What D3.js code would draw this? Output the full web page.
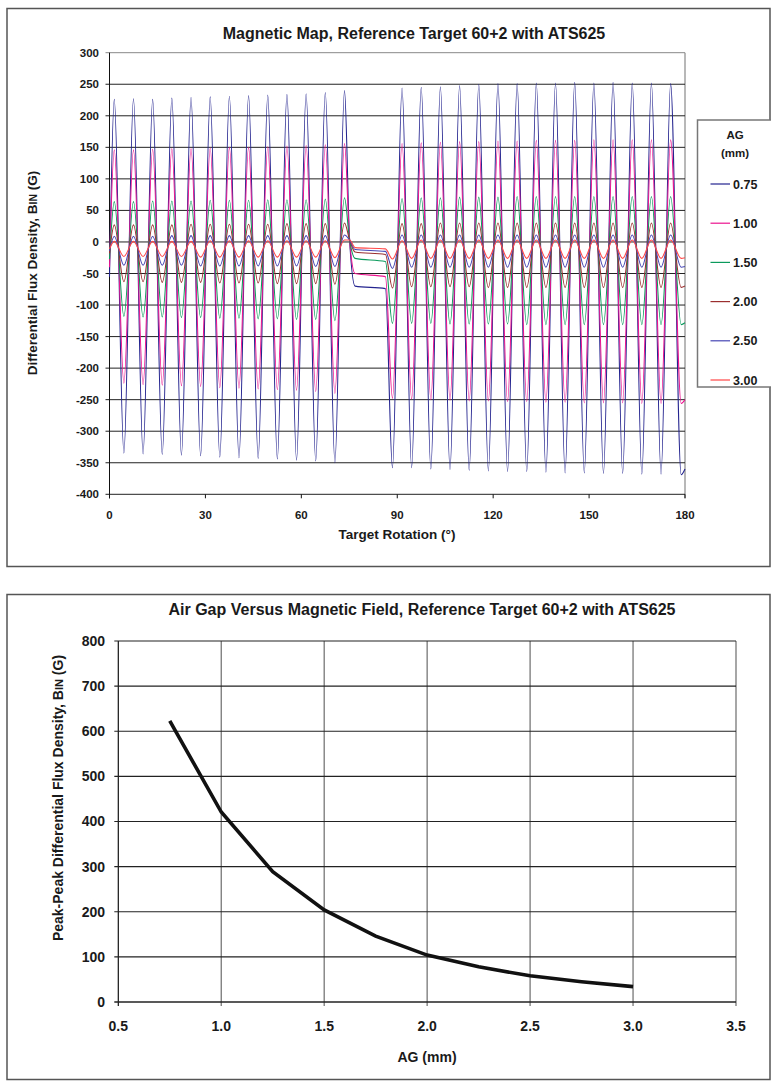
<!DOCTYPE html>
<html>
<head>
<meta charset="utf-8">
<script src="https://cdn.jsdelivr.net/npm/d3@7"></script>
<style>
  body { margin: 0; background: #fff; }
  text { font-family: "Liberation Sans", Arial, sans-serif; font-weight: bold; fill: #1a1a1a; }
</style>
</head>
<body>
<div id="chart"></div>
<script>
// ---- data: magnetic map (tooth peaks / valleys) ----
var seriesNames = ["0.75", "1.00", "1.50", "2.00", "2.50", "3.00"];
var seriesColors = ["#24248f", "#ec138f", "#0b9a5c", "#9b2f2f", "#4646b4", "#ff4646"];

var peakAngles = [1.5, 7.5, 13.5, 19.5, 25.5, 31.5, 37.5, 43.5, 49.5, 55.5, 61.5, 67.5, 73.5,
  91.5, 97.5, 103.5, 109.5, 115.5, 121.5, 127.5, 133.5, 139.5, 145.5, 151.5, 157.5, 163.5, 169.5, 175.5];
var valleyAngles = [4.5, 10.5, 16.5, 22.5, 28.5, 34.5, 40.5, 46.5, 52.5, 58.5, 64.5, 70.5, 88.5,
  94.5, 100.5, 106.5, 112.5, 118.5, 124.5, 130.5, 136.5, 142.5, 148.5, 154.5, 160.5, 166.5, 172.5, 178.8];
// missing-tooth gap: crossing point, start of flat part, end of flat part
var gapAngles = [75.1, 76.8, 86.3];

var peaks075 = [226, 227, 226, 228, 229, 230, 231, 232, 233, 234, 235, 237, 240,
  244, 245, 246, 248, 250, 251, 251, 252, 252, 253, 252, 253, 252, 252, 251];
var valleys075 = [-335, -336, -337, -338, -339, -341, -342, -343, -344, -346, -347, -350, -358,
  -358, -360, -361, -362, -363, -364, -364, -365, -366, -366, -367, -367, -368, -368, -369];
var peaks100 = [146, 146, 147, 148, 148, 149, 150, 150, 151, 152, 153, 154, 156,
  156, 157, 158, 159, 159, 160, 160, 161, 161, 161, 162, 162, 162, 162, 162];
var valleys100 = [-224, -226, -227, -228, -229, -231, -232, -233, -234, -235, -237, -240, -248,
  -249, -250, -251, -252, -252, -253, -253, -254, -254, -255, -255, -255, -256, -256, -256];
var peaks150 = [64, 64, 65, 65, 65, 66, 66, 66, 67, 67, 67, 68, 70,
  69, 70, 70, 71, 71, 71, 72, 72, 72, 72, 72, 72, 72, 72, 72];
var valleys150 = [-118, -119, -119, -120, -120, -121, -121, -122, -122, -123, -123, -125, -129,
  -129, -129, -130, -130, -130, -130, -131, -131, -131, -131, -131, -131, -131, -131, -131];
var peaks200 = [27, 27, 27, 27, 28, 28, 28, 28, 28, 29, 29, 29, 30,
  29, 29, 30, 30, 30, 30, 30, 30, 30, 30, 30, 30, 30, 30, 30];
var valleys200 = [-63, -63, -64, -64, -64, -65, -65, -65, -66, -66, -66, -67, -73,
  -71, -71, -71, -71, -72, -72, -72, -72, -72, -72, -72, -72, -72, -72, -72];
var peaks250 = [9, 9, 9, 10, 10, 10, 10, 10, 10, 10, 10, 10, 11,
  11, 11, 11, 11, 11, 11, 11, 11, 11, 11, 11, 11, 11, 11, 11];
var valleys250 = [-37, -37, -37, -37, -38, -38, -38, -38, -38, -38, -39, -39, -42,
  -40, -40, -40, -40, -40, -40, -40, -40, -40, -40, -40, -40, -40, -40, -40];
var peaks300 = [1, 1, 1, 1, 1, 2, 2, 2, 2, 2, 2, 2, 3,
  2, 3, 3, 3, 3, 3, 3, 3, 3, 3, 3, 3, 3, 3, 3];
var valleys300 = [-23, -23, -23, -23, -24, -24, -24, -24, -24, -24, -24, -25, -27,
  -26, -26, -26, -26, -26, -26, -26, -26, -26, -26, -26, -26, -26, -26, -26];

var startValues = [-55, -40, -27, -18, -14, -11];   // value at 0 deg
var endValues = [-360, -250, -128, -70, -39, -25];  // value at 180 deg
var gapValues = [[3, -70, -74], [3, -50, -55], [3, -26, -31], [3, -16, -20], [3, -12, -15], [3, -9, -11]];

var allPeaks = [peaks075, peaks100, peaks150, peaks200, peaks250, peaks300];
var allValleys = [valleys075, valleys100, valleys150, valleys200, valleys250, valleys300];

var topYTicks = [300, 250, 200, 150, 100, 50, 0, -50, -100, -150, -200, -250, -300, -350, -400];
var topXTicks = [0, 30, 60, 90, 120, 150, 180];

// ---- data: air gap vs peak-peak field ----
var airGap = [0.75, 1.00, 1.25, 1.50, 1.75, 2.00, 2.25, 2.50, 2.75, 3.00];
var peakPeak = [623, 421, 289, 204, 146, 104, 78, 58, 45, 34];
var botYTicks = [0, 100, 200, 300, 400, 500, 600, 700, 800];
var botXTicks = [0.5, 1.0, 1.5, 2.0, 2.5, 3.0, 3.5];

var svg = d3.select("#chart").append("svg")
    .attr("width", 771)
    .attr("height", 1083);

// panels
svg.append("rect").attr("x", 7).attr("y", 8.5).attr("width", 763).attr("height", 558)
    .attr("fill", "none").attr("stroke", "#555").attr("stroke-width", 1.5);
svg.append("rect").attr("x", 7).attr("y", 594.5).attr("width", 763).attr("height", 485)
    .attr("fill", "none").attr("stroke", "#555").attr("stroke-width", 1.5);

// ================= top chart =================
var x0 = d3.scaleLinear().domain([0, 180]).range([109.5, 685]);
var y0 = d3.scaleLinear().domain([-400, 300]).range([494.3, 52.7]);

svg.append("text").attr("x", 414).attr("y", 39).attr("text-anchor", "middle")
    .attr("font-size", 16).text("Magnetic Map, Reference Target 60+2 with ATS625");

var gTop = svg.append("g");

// plot area border (right, grey)
gTop.append("line").attr("x1", x0(180)).attr("x2", x0(180)).attr("y1", y0(300)).attr("y2", y0(-400) + 4)
    .attr("stroke", "#b8b8b8").attr("stroke-width", 2);

// grid lines
gTop.selectAll(".hgrid").data(topYTicks).enter().append("line")
    .attr("x1", x0(0) - 4).attr("x2", x0(180))
    .attr("y1", function(d) { return y0(d); }).attr("y2", function(d) { return y0(d); })
    .attr("stroke", function(d) { return d == 300 ? "#888" : "#222"; })
    .attr("stroke-width", 1);

// axes
gTop.append("line").attr("x1", x0(0)).attr("x2", x0(0)).attr("y1", y0(300)).attr("y2", y0(-400) + 4)
    .attr("stroke", "#111").attr("stroke-width", 1);
gTop.selectAll(".xtick").data(topXTicks).enter().append("line")
    .attr("x1", function(d) { return x0(d); }).attr("x2", function(d) { return x0(d); })
    .attr("y1", y0(-400)).attr("y2", y0(-400) + 4)
    .attr("stroke", "#111");

gTop.selectAll(".ylab").data(topYTicks).enter().append("text")
    .attr("x", 99).attr("y", function(d) { return y0(d); }).attr("dy", "0.35em")
    .attr("text-anchor", "end").attr("font-size", 11.5)
    .text(function(d) { return d; });
gTop.selectAll(".xlab").data(topXTicks).enter().append("text")
    .attr("x", function(d) { return x0(d); }).attr("y", 519)
    .attr("text-anchor", "middle").attr("font-size", 11.5)
    .text(function(d) { return d; });

gTop.append("text").attr("x", 397).attr("y", 539).attr("text-anchor", "middle")
    .attr("font-size", 13.5).text("Target Rotation (°)");
var yt = gTop.append("text").attr("transform", "translate(37,273) rotate(-90)")
    .attr("text-anchor", "middle").attr("font-size", 13.5);
yt.append("tspan").text("Differential Flux Density, B");
yt.append("tspan").attr("font-size", 10.5).text("IN");
yt.append("tspan").text(" (G)");

// waveforms
var wave = d3.line()
    .x(function(d) { return x0(d[0]); })
    .y(function(d) { return y0(d[1]); })
    .curve(d3.curveMonotoneX);

var series = seriesNames.map(function(name, i) {
  var pts = [[0, startValues[i]], [180, endValues[i]]];
  peakAngles.forEach(function(a, k) { pts.push([a, allPeaks[i][k]]); });
  valleyAngles.forEach(function(a, k) { pts.push([a, allValleys[i][k]]); });
  gapAngles.forEach(function(a, k) { pts.push([a, gapValues[i][k]]); });
  pts.sort(function(a, b) { return a[0] - b[0]; });
  return {name: name, color: seriesColors[i], points: pts};
});

gTop.selectAll(".wave").data(series).enter().append("path")
    .attr("class", "wave")
    .attr("d", function(d) { return wave(d.points); })
    .attr("fill", "none")
    .attr("stroke", function(d) { return d.color; })
    .attr("stroke-width", 1.1);

// legend
var lg = svg.append("g");
lg.append("rect").attr("x", 697.5).attr("y", 120).attr("width", 80).attr("height", 267)
    .attr("fill", "#fff").attr("stroke", "#777").attr("stroke-width", 1.5);
lg.append("text").attr("x", 735).attr("y", 139).attr("text-anchor", "middle").attr("font-size", 11.5).text("AG");
lg.append("text").attr("x", 735).attr("y", 157).attr("text-anchor", "middle").attr("font-size", 11.5).text("(mm)");
var items = lg.selectAll(".item").data(series).enter().append("g")
    .attr("transform", function(d, i) { return "translate(0," + (184 + i * 39.2) + ")"; });
items.append("line").attr("x1", 710.5).attr("x2", 730).attr("y1", 0).attr("y2", 0)
    .attr("stroke", function(d) { return d.color; }).attr("stroke-width", 1.2);
items.append("text").attr("x", 733).attr("y", 0).attr("dy", "0.36em").attr("font-size", 12.5)
    .text(function(d) { return d.name; });

// ================= bottom chart =================
var x1 = d3.scaleLinear().domain([0.5, 3.5]).range([118.3, 736]);
var y1 = d3.scaleLinear().domain([0, 800]).range([1002, 641]);

svg.append("text").attr("x", 422).attr("y", 615).attr("text-anchor", "middle")
    .attr("font-size", 16).text("Air Gap Versus Magnetic Field, Reference Target 60+2 with ATS625");

var gBot = svg.append("g");
gBot.selectAll(".vgrid").data(botXTicks).enter().append("line")
    .attr("x1", function(d) { return x1(d); }).attr("x2", function(d) { return x1(d); })
    .attr("y1", y1(800)).attr("y2", y1(0) + 4)
    .attr("stroke", function(d) { return d == 0.5 ? "#111" : "#777"; })
    .attr("stroke-width", function(d) { return d == 0.5 ? 1.2 : 1.3; });
gBot.selectAll(".hgrid").data(botYTicks).enter().append("line")
    .attr("x1", x1(0.5) - 4).attr("x2", x1(3.5))
    .attr("y1", function(d) { return y1(d); }).attr("y2", function(d) { return y1(d); })
    .attr("stroke", "#222").attr("stroke-width", function(d) { return d == 0 ? 1.4 : 1.1; });

gBot.selectAll(".ylab").data(botYTicks).enter().append("text")
    .attr("x", 105).attr("y", function(d) { return y1(d); }).attr("dy", "0.35em")
    .attr("text-anchor", "end").attr("font-size", 14)
    .text(function(d) { return d; });
gBot.selectAll(".xlab").data(botXTicks).enter().append("text")
    .attr("x", function(d) { return x1(d); }).attr("y", 1031)
    .attr("text-anchor", "middle").attr("font-size", 14)
    .text(function(d) { return d3.format(".1f")(d); });

gBot.append("text").attr("x", 427).attr("y", 1062).attr("text-anchor", "middle")
    .attr("font-size", 14).text("AG (mm)");
var yt2 = gBot.append("text").attr("transform", "translate(63,798) rotate(-90)")
    .attr("text-anchor", "middle").attr("font-size", 14);
yt2.append("tspan").text("Peak-Peak Differential Flux Density, B");
yt2.append("tspan").attr("font-size", 11).text("IN");
yt2.append("tspan").text(" (G)");

var agLine = d3.line()
    .x(function(d, i) { return x1(airGap[i]); })
    .y(function(d) { return y1(d); });
gBot.append("path")
    .attr("d", agLine(peakPeak))
    .attr("fill", "none")
    .attr("stroke", "#111")
    .attr("stroke-width", 3.6);
</script>
</body>
</html>
